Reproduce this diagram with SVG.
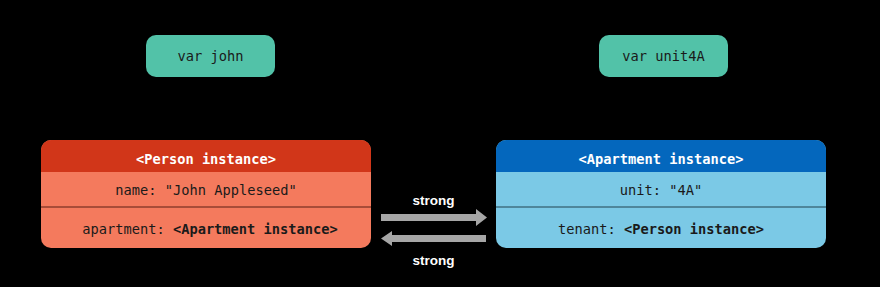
<svg xmlns="http://www.w3.org/2000/svg" width="880" height="287" viewBox="0 0 880 287">
<style>
.mono{font-family:"DejaVu Sans Mono","Liberation Mono",monospace;font-size:13.7px;text-anchor:middle;fill:#1a1a1a}
.hdr{font-family:"DejaVu Sans Mono","Liberation Mono",monospace;font-size:13.7px;font-weight:bold;text-anchor:middle;fill:#ffffff}
.b{font-weight:bold}
.var{fill:#52c2a8}
.lbl{font-family:"Liberation Sans",Arial,sans-serif;font-size:13.5px;font-weight:bold;text-anchor:middle;fill:#ffffff}
.arr{fill:#a6a6a6}
</style>
<rect width="880" height="287" fill="#000000"/>
<g id="var-john">
<rect class="var" x="146" y="35" width="129" height="42" rx="10"/>
<text class="mono" x="210.5" y="61">var john</text>
</g>
<g id="var-unit4A">
<rect class="var" x="599" y="35" width="129" height="42" rx="10"/>
<text class="mono" x="663.5" y="61">var unit4A</text>
</g>
<g id="person">
<rect x="41" y="140" width="330" height="108" rx="10" fill="#f47a5d"/>
<path d="M41 172 V150 A10 10 0 0 1 51 140 H361 A10 10 0 0 1 371 150 V172 Z" fill="#d13619"/>
<line x1="41" y1="207" x2="371" y2="207" stroke="#8f3e2c" stroke-width="1.5"/>
<text class="hdr" x="206" y="163.5">&lt;Person instance&gt;</text>
<text class="mono" x="206" y="194.5">name: "John Appleseed"</text>
<text class="mono" x="210" y="233.5">apartment: <tspan class="b">&lt;Apartment instance&gt;</tspan></text>
</g>
<g id="apartment">
<rect x="496" y="140" width="330" height="108" rx="10" fill="#7bc9e6"/>
<path d="M496 172 V150 A10 10 0 0 1 506 140 H816 A10 10 0 0 1 826 150 V172 Z" fill="#0467bd"/>
<line x1="496" y1="207" x2="826" y2="207" stroke="#3f6f82" stroke-width="1.5"/>
<text class="hdr" x="661" y="163.5">&lt;Apartment instance&gt;</text>
<text class="mono" x="661" y="194.5">unit: "4A"</text>
<text class="mono" x="661" y="233.5">tenant: <tspan class="b">&lt;Person instance&gt;</tspan></text>
</g>
<g id="connectors">
<polygon class="arr" points="381,214 476,214 476,209 487,217.5 476,226 476,221 381,221"/>
<polygon class="arr" points="486,235 392,235 392,231 381,238.5 392,246 392,242 486,242"/>
<text class="lbl" x="433.5" y="205">strong</text>
<text class="lbl" x="433.5" y="265">strong</text>
</g>
</svg>
